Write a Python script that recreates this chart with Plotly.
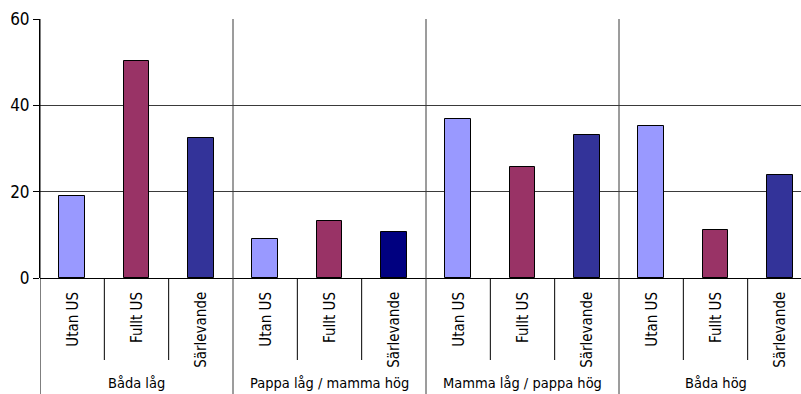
import plotly.graph_objects as go

# Data
groups = ["Båda låg", "Pappa låg / mamma hög", "Mamma låg / pappa hög", "Båda hög"]
categories = ["Utan US", "Fullt US", "Särlevande"]
values = [
    [19.0, 50.3, 32.4],
    [9.0, 13.2, 10.6],
    [36.9, 25.6, 33.1],
    [35.1, 11.1, 23.8],
]
y_ticks = [0, 20, 40, 60]

colors = ["#9999FF", "#993366", "#333399"]
alt_color = "#000080"  # third bar of the second group

W, H = 801, 394
M_L, M_T, M_B = 40, 19, 116
plot_h = H - M_T - M_B
FONT = "DejaVu Sans Condensed, Liberation Sans Narrow, sans-serif"
LINE = "#3a3a3a"


def py(px_from_top):
    """Convert a pixel row of the page into paper y."""
    return (H - M_B - px_from_top) / plot_h


n_cat = len(categories)
xs, ys, cols = [], [], []
for g, row in enumerate(values):
    for c, v in enumerate(row):
        xs.append(g * n_cat + c)
        ys.append(v)
        cols.append(alt_color if (g == 1 and c == 2) else colors[c])

fig = go.Figure(
    go.Bar(
        x=xs, y=ys, width=0.4,
        marker=dict(color=cols, line=dict(color="#000000", width=1)),
        hoverinfo="y",
    )
)

shapes = []
annotations = []
for g, name in enumerate(groups):
    # divider at the left edge of each group, through plot and label area
    xb = g * n_cat - 0.5
    shapes.append(dict(type="line", xref="x", yref="paper", x0=xb, x1=xb,
                       y0=py(H), y1=1, line=dict(color=LINE if g else "#000000", width=1)))
    for c, cat in enumerate(categories):
        xc = g * n_cat + c
        if c > 0:
            shapes.append(dict(type="line", xref="x", yref="paper", x0=xc - 0.5, x1=xc - 0.5,
                               y0=py(360), y1=0, line=dict(color="#000000", width=1)))
        annotations.append(dict(x=xc, y=py(290), xref="x", yref="paper", text=cat,
                                textangle=-90, showarrow=False, xanchor="center", yanchor="top",
                                font=dict(family=FONT, size=15, color="#000000")))
    annotations.append(dict(x=g * n_cat + (n_cat - 1) / 2, y=py(383), xref="x", yref="paper",
                            text=name, showarrow=False, xanchor="center", yanchor="middle",
                            font=dict(family=FONT, size=14.5, color="#000000")))

unit_px = 193 / n_cat
x_max = -0.5 + (W - M_L) / unit_px

fig.update_layout(
    width=W, height=H,
    margin=dict(l=M_L, r=0, t=M_T, b=M_B),
    plot_bgcolor="#FFFFFF", paper_bgcolor="#FFFFFF",
    showlegend=False,
    bargap=0,
    shapes=shapes,
    annotations=annotations,
    xaxis=dict(range=[-0.5, x_max], showticklabels=False, showgrid=False,
               zeroline=False, ticks="", showline=False, fixedrange=True),
    yaxis=dict(range=[0, 60], tickvals=y_ticks, ticks="outside", ticklen=6,
               tickcolor="#000000", showline=True, linecolor="#000000", linewidth=1,
               showgrid=True, gridcolor=LINE, gridwidth=1, zeroline=True,
               zerolinecolor="#000000", zerolinewidth=1,
               tickfont=dict(family=FONT, size=17, color="#000000"), fixedrange=True),
)

fig.write_html("out.html")
